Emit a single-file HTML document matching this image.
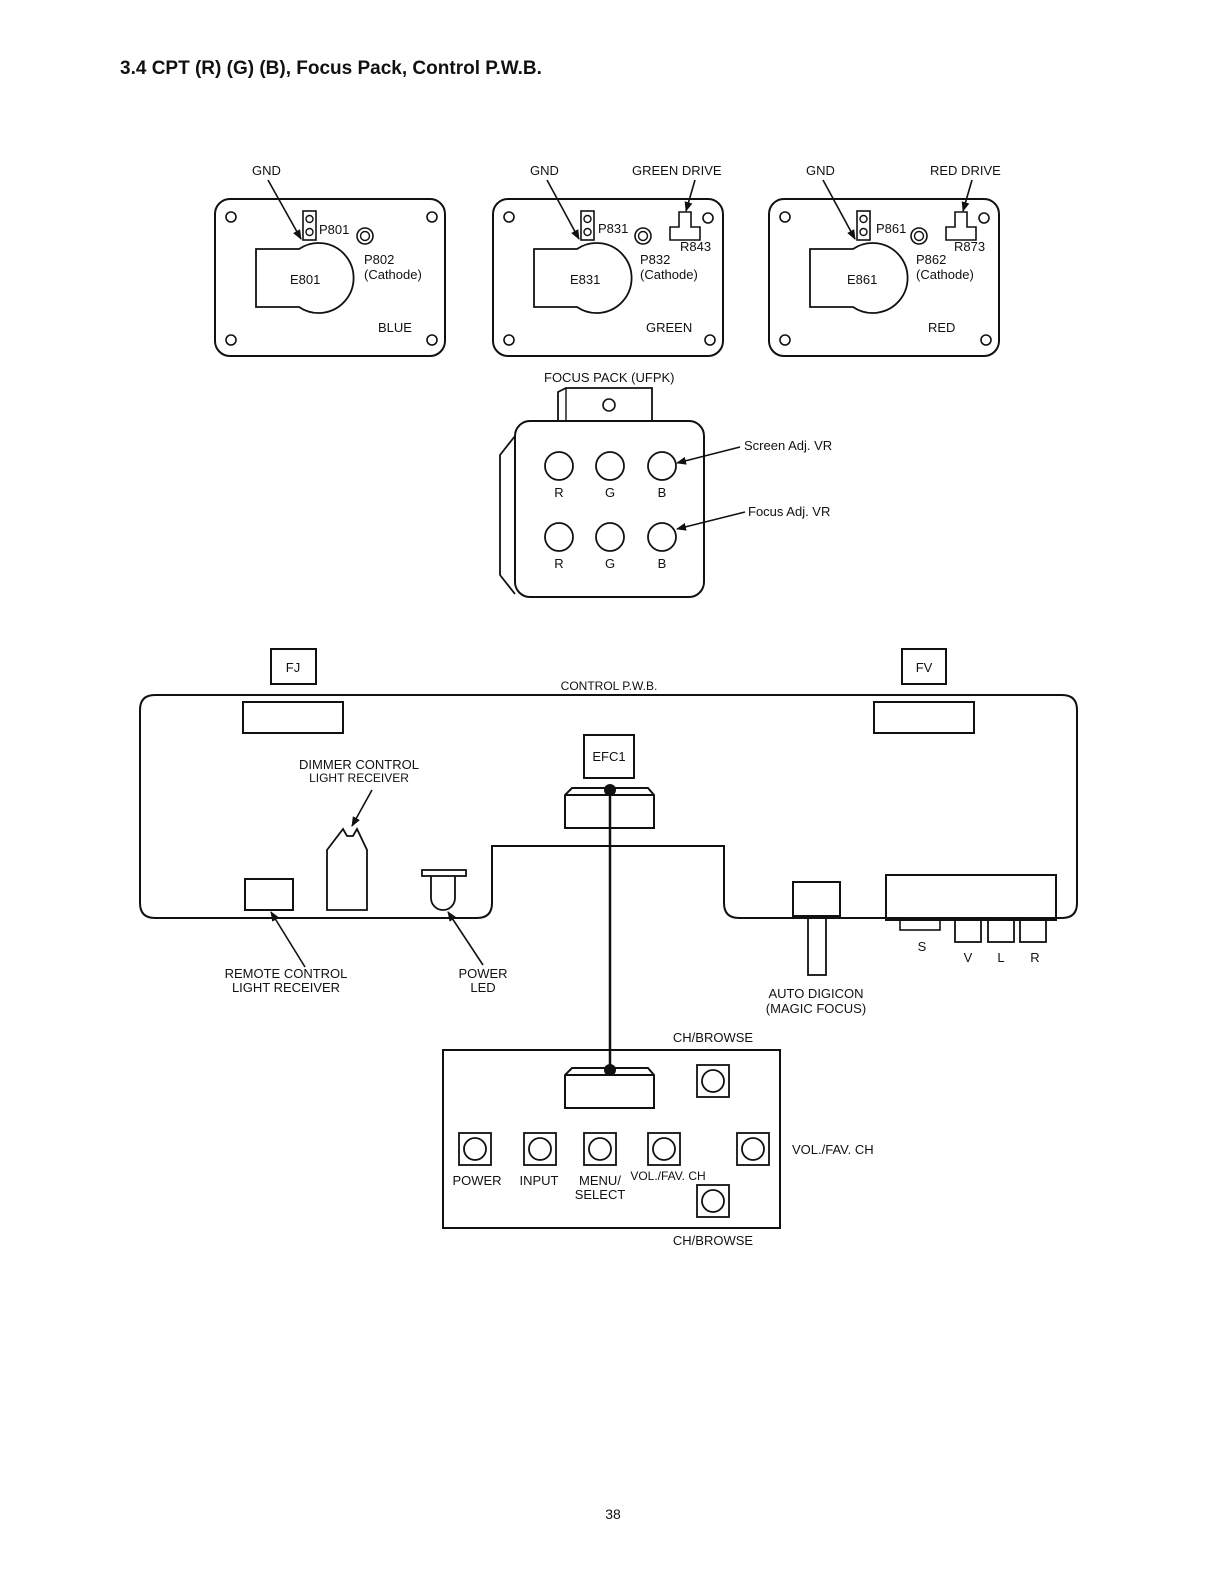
<!DOCTYPE html>
<html><head><meta charset="utf-8"><style>
html,body{margin:0;padding:0;background:#fff}
svg{display:block}
text{font-family:"Liberation Sans",sans-serif;fill:#111}
</style></head><body>
<svg width="1223" height="1587" viewBox="0 0 1223 1587" xmlns="http://www.w3.org/2000/svg">
<defs>
<marker id="ar" markerWidth="10" markerHeight="8" refX="9" refY="4" orient="auto" markerUnits="userSpaceOnUse"><path d="M0,0 L10,4 L0,8 z" fill="#111"/></marker>
<g id="cpt">
<rect x="0" y="0" width="230" height="157" rx="15" fill="none" stroke="#111" stroke-width="2"/>
<circle cx="16" cy="18" r="5" fill="none" stroke="#111" stroke-width="1.6"/>
<circle cx="16" cy="141" r="5" fill="none" stroke="#111" stroke-width="1.6"/>
<circle cx="217" cy="141" r="5" fill="none" stroke="#111" stroke-width="1.6"/>
<rect x="88" y="12" width="13" height="29" fill="none" stroke="#111" stroke-width="1.6"/>
<circle cx="94.5" cy="20" r="3.5" fill="none" stroke="#111" stroke-width="1.4"/>
<circle cx="94.5" cy="33" r="3.5" fill="none" stroke="#111" stroke-width="1.4"/>
<path d="M84,50 L41,50 L41,108 L84,108 A35,35 0 1 0 84,50 Z" fill="none" stroke="#111" stroke-width="1.8"/>
<circle cx="150" cy="37" r="8" fill="none" stroke="#111" stroke-width="1.6"/>
<circle cx="150" cy="37" r="4.5" fill="none" stroke="#111" stroke-width="1.4"/>
</g>
</defs>
<text x="120" y="74" font-size="19" font-weight="bold">3.4 CPT (R) (G) (B),  Focus Pack, Control P.W.B.</text>

<!-- CPT boards -->
<g transform="translate(215,199)"><use href="#cpt"/><circle cx="217" cy="18" r="5" fill="none" stroke="#111" stroke-width="1.6"/></g>
<g transform="translate(493,199)"><use href="#cpt"/><circle cx="215" cy="19" r="5" fill="none" stroke="#111" stroke-width="1.6"/></g>
<g transform="translate(769,199)"><use href="#cpt"/><circle cx="215" cy="19" r="5" fill="none" stroke="#111" stroke-width="1.6"/></g>
<!-- R843/R873 -->
<path d="M679,212 h12 v15 h9 v13 h-30 v-13 h9 z" fill="none" stroke="#111" stroke-width="1.6"/>
<path d="M955,212 h12 v15 h9 v13 h-30 v-13 h9 z" fill="none" stroke="#111" stroke-width="1.6"/>

<g font-size="13">
<text x="252" y="175">GND</text>
<text x="530" y="175">GND</text>
<text x="632" y="175">GREEN DRIVE</text>
<text x="806" y="175">GND</text>
<text x="930" y="175">RED DRIVE</text>
<text x="319" y="234">P801</text><text x="364" y="264">P802</text><text x="364" y="279">(Cathode)</text>
<text x="290" y="284">E801</text><text x="378" y="332">BLUE</text>
<text x="598" y="233">P831</text><text x="640" y="264">P832</text><text x="640" y="279">(Cathode)</text>
<text x="570" y="284">E831</text><text x="646" y="332">GREEN</text><text x="680" y="251">R843</text>
<text x="876" y="233">P861</text><text x="916" y="264">P862</text><text x="916" y="279">(Cathode)</text>
<text x="847" y="284">E861</text><text x="928" y="332">RED</text><text x="954" y="251">R873</text>
</g>
<g stroke="#111" stroke-width="1.6" marker-end="url(#ar)">
<line x1="268" y1="180" x2="301" y2="239"/>
<line x1="547" y1="180" x2="579" y2="239"/>
<line x1="823" y1="180" x2="855" y2="239"/>
<line x1="695" y1="180" x2="686" y2="211"/>
<line x1="972" y1="180" x2="963" y2="211"/>
</g>

<!-- Focus pack -->
<text x="544" y="382" font-size="13">FOCUS PACK (UFPK)</text>
<path d="M558,421 V392 L566,388 H652 V421" fill="none" stroke="#111" stroke-width="1.8"/>
<line x1="566" y1="388" x2="566" y2="421" stroke="#111" stroke-width="1.4"/>
<circle cx="609" cy="405" r="6" fill="none" stroke="#111" stroke-width="1.6"/>
<rect x="515" y="421" width="189" height="176" rx="15" fill="none" stroke="#111" stroke-width="2"/>
<path d="M515,436 L500,455 V575 L515,594" fill="none" stroke="#111" stroke-width="1.8"/>
<g fill="none" stroke="#111" stroke-width="1.8">
<circle cx="559" cy="466" r="14"/><circle cx="610" cy="466" r="14"/><circle cx="662" cy="466" r="14"/>
<circle cx="559" cy="537" r="14"/><circle cx="610" cy="537" r="14"/><circle cx="662" cy="537" r="14"/>
</g>
<g font-size="13" text-anchor="middle">
<text x="559" y="497">R</text><text x="610" y="497">G</text><text x="662" y="497">B</text>
<text x="559" y="568">R</text><text x="610" y="568">G</text><text x="662" y="568">B</text>
</g>
<g stroke="#111" stroke-width="1.6" marker-end="url(#ar)">
<line x1="740" y1="447" x2="677" y2="463"/>
<line x1="745" y1="512" x2="677" y2="529"/>
</g>
<text x="744" y="450" font-size="13">Screen Adj. VR</text>
<text x="748" y="516" font-size="13">Focus Adj. VR</text>

<!-- Control PWB -->
<rect x="271" y="649" width="45" height="35" fill="none" stroke="#111" stroke-width="2"/>
<text x="293" y="672" font-size="13" text-anchor="middle">FJ</text>
<rect x="902" y="649" width="44" height="35" fill="none" stroke="#111" stroke-width="2"/>
<text x="924" y="672" font-size="13" text-anchor="middle">FV</text>
<text x="609" y="690" font-size="12" text-anchor="middle">CONTROL P.W.B.</text>
<path d="M155,695 H1062 Q1077,695 1077,710 V903 Q1077,918 1062,918 H739 Q724,918 724,903 V846 H492 V903 Q492,918 477,918 H155 Q140,918 140,903 V710 Q140,695 155,695 Z" fill="none" stroke="#111" stroke-width="2"/>
<rect x="243" y="702" width="100" height="31" fill="none" stroke="#111" stroke-width="2"/>
<rect x="874" y="702" width="100" height="31" fill="none" stroke="#111" stroke-width="2"/>
<rect x="584" y="735" width="50" height="43" fill="none" stroke="#111" stroke-width="2"/>
<text x="609" y="761" font-size="13" text-anchor="middle">EFC1</text>
<path d="M565,828 V795 L572,788 H648 L654,795 V828 Z M565,795 H654" fill="none" stroke="#111" stroke-width="2"/>
<line x1="610" y1="790" x2="610" y2="1070" stroke="#111" stroke-width="2.5"/>
<circle cx="610" cy="790" r="6" fill="#111"/>
<circle cx="610" cy="1070" r="6" fill="#111"/>
<text x="359" y="769" font-size="13" text-anchor="middle">DIMMER CONTROL</text>
<text x="359" y="782" font-size="12" text-anchor="middle">LIGHT RECEIVER</text>
<line x1="372" y1="790" x2="352" y2="826" stroke="#111" stroke-width="1.6" marker-end="url(#ar)"/>
<path d="M327,910 V850 L343,829 L347,836 H353 L357,829 L367,850 V910 Z" fill="none" stroke="#111" stroke-width="1.8"/>
<rect x="245" y="879" width="48" height="31" fill="none" stroke="#111" stroke-width="2"/>
<line x1="305" y1="967" x2="271" y2="912" stroke="#111" stroke-width="1.6" marker-end="url(#ar)"/>
<rect x="422" y="870" width="44" height="6" fill="none" stroke="#111" stroke-width="1.8"/>
<path d="M431,876 V898 A12,12 0 0 0 455,898 V876" fill="none" stroke="#111" stroke-width="1.8"/>
<line x1="483" y1="965" x2="448" y2="912" stroke="#111" stroke-width="1.6" marker-end="url(#ar)"/>
<g font-size="13" text-anchor="middle">
<text x="286" y="978">REMOTE CONTROL</text><text x="286" y="992">LIGHT RECEIVER</text>
<text x="483" y="978">POWER</text><text x="483" y="992">LED</text>
<text x="816" y="998">AUTO DIGICON</text><text x="816" y="1013">(MAGIC FOCUS)</text>
</g>
<rect x="793" y="882" width="47" height="34" fill="none" stroke="#111" stroke-width="2"/>
<rect x="808" y="916" width="18" height="59" fill="none" stroke="#111" stroke-width="1.8"/>
<rect x="886" y="875" width="170" height="45" fill="none" stroke="#111" stroke-width="2"/>
<rect x="900" y="920" width="40" height="10" fill="none" stroke="#111" stroke-width="1.6"/>
<rect x="955" y="920" width="26" height="22" fill="none" stroke="#111" stroke-width="1.8"/>
<rect x="988" y="920" width="26" height="22" fill="none" stroke="#111" stroke-width="1.8"/>
<rect x="1020" y="920" width="26" height="22" fill="none" stroke="#111" stroke-width="1.8"/>
<g font-size="13" text-anchor="middle">
<text x="922" y="951">S</text><text x="968" y="962">V</text><text x="1001" y="962">L</text><text x="1035" y="962">R</text>
</g>

<!-- Lower panel -->
<text x="713" y="1042" font-size="13" text-anchor="middle">CH/BROWSE</text>
<rect x="443" y="1050" width="337" height="178" fill="none" stroke="#111" stroke-width="2"/>
<path d="M565,1108 V1075 L572,1068 H648 L654,1075 V1108 Z M565,1075 H654" fill="none" stroke="#111" stroke-width="2"/>
<g fill="none" stroke="#111" stroke-width="1.8">
<rect x="459" y="1133" width="32" height="32"/><circle cx="475" cy="1149" r="11"/>
<rect x="524" y="1133" width="32" height="32"/><circle cx="540" cy="1149" r="11"/>
<rect x="584" y="1133" width="32" height="32"/><circle cx="600" cy="1149" r="11"/>
<rect x="648" y="1133" width="32" height="32"/><circle cx="664" cy="1149" r="11"/>
<rect x="737" y="1133" width="32" height="32"/><circle cx="753" cy="1149" r="11"/>
<rect x="697" y="1065" width="32" height="32"/><circle cx="713" cy="1081" r="11"/>
<rect x="697" y="1185" width="32" height="32"/><circle cx="713" cy="1201" r="11"/>
</g>
<g font-size="13" text-anchor="middle">
<text x="477" y="1185">POWER</text><text x="539" y="1185">INPUT</text>
<text x="600" y="1185">MENU/</text><text x="600" y="1199">SELECT</text>
<text x="668" y="1180" font-size="12">VOL./FAV. CH</text>
<text x="713" y="1245">CH/BROWSE</text>
</g>
<text x="792" y="1154" font-size="13">VOL./FAV. CH</text>
<text x="613" y="1519" font-size="14" text-anchor="middle">38</text>
</svg>
</body></html>
